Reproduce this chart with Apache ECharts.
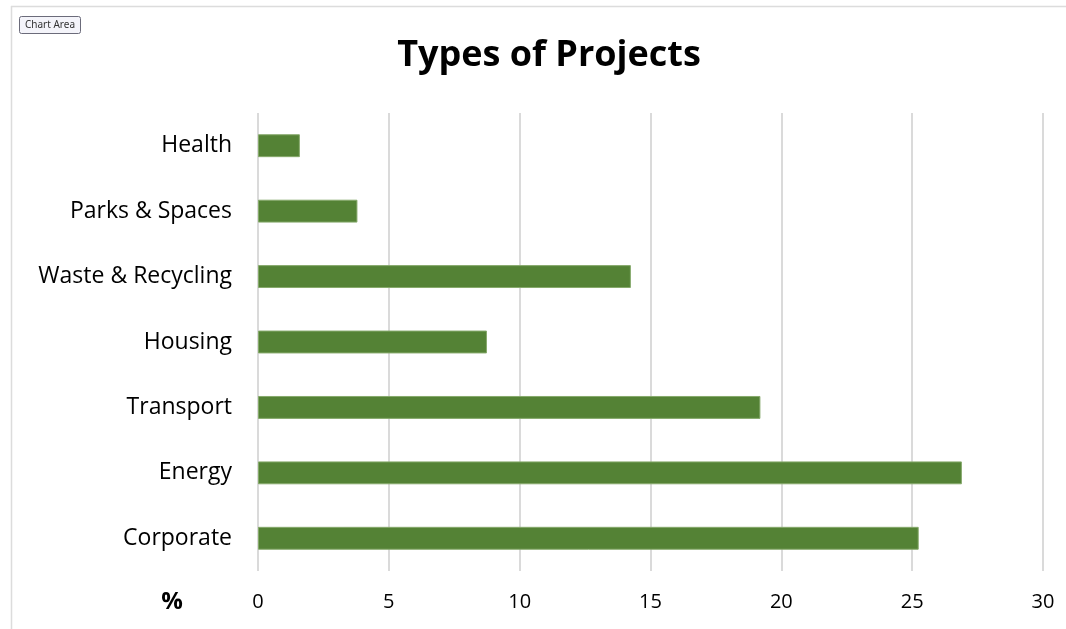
<!DOCTYPE html>
<html>
<head>
<meta charset="utf-8">
<script src="https://cdn.jsdelivr.net/npm/echarts@6/dist/echarts.min.js"></script>
<style>
html,body{margin:0;padding:0;background:#fff;}
#c{width:1066px;height:629px;}
</style>
</head>
<body>
<div id="c"></div>
<script>
const categories = ['Corporate','Energy','Transport','Housing','Waste & Recycling','Parks & Spaces','Health'];
const values = [25.25, 26.9, 19.2, 8.75, 14.25, 3.8, 1.6];
const xTicks = {min: 0, max: 30, interval: 5};
const titleText = 'Types of Projects';
const unitLabel = '%';

const chart = echarts.init(document.getElementById('c'));
const font = '"Open Sans", "Noto Sans", sans-serif';
chart.setOption({
  animation: false,
  backgroundColor: '#fff',
  grid: {left: 258, right: 23, top: 113, bottom: 58, containLabel: false},
  xAxis: {
    type: 'value', min: xTicks.min, max: xTicks.max, interval: xTicks.interval,
    axisLine: {show: false}, axisTick: {show: false},
    splitLine: {show: true, lineStyle: {color: '#dadada', width: 2}},
    axisLabel: {color: '#000', fontSize: 20, fontFamily: font, margin: 21}
  },
  yAxis: {
    type: 'category', data: categories,
    axisLine: {show: false}, axisTick: {show: false},
    axisLabel: {color: '#000', fontSize: 23, fontFamily: font, margin: 26}
  },
  series: [{
    type: 'bar', data: values, barWidth: '35%',
    itemStyle: {color: '#548235', borderColor: '#86a96b', borderWidth: 1}
  }],
  graphic: [
    {type: 'line', shape: {x1: 11, y1: 6.5, x2: 1066, y2: 6.5}, style: {stroke: '#dcdcdc', lineWidth: 1.5}},
    {type: 'line', shape: {x1: 11.5, y1: 6, x2: 11.5, y2: 629}, style: {stroke: '#dcdcdc', lineWidth: 1.5}},
    {type: 'rect', shape: {x: 19.5, y: 16.5, width: 61, height: 17, r: 2},
     style: {fill: '#f4f4fa', stroke: '#6b6b7a', lineWidth: 1}},
    {type: 'text', x: 50, y: 25, style: {text: 'Chart Area', fill: '#333', font: '10px "Noto Sans", sans-serif', align: 'center', verticalAlign: 'middle'}},
    {type: 'text', x: 549, y: 56, style: {text: titleText, fill: '#000', font: 'bold 36px "Open Sans", "Noto Sans", sans-serif', align: 'center', verticalAlign: 'middle'}},
    {type: 'text', x: 172, y: 602, style: {text: unitLabel, fill: '#000', font: 'bold 24px "Open Sans", "Noto Sans", sans-serif', align: 'center', verticalAlign: 'middle'}}
  ]
});
</script>
</body>
</html>
